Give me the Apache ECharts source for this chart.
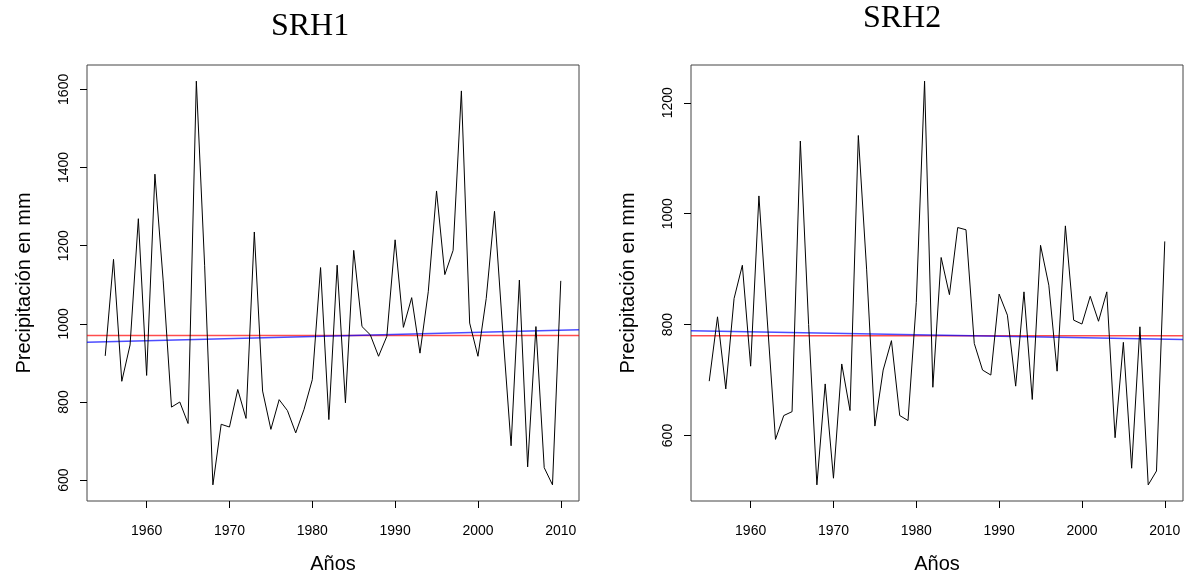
<!DOCTYPE html>
<html>
<head>
<meta charset="utf-8">
<script src="https://cdn.jsdelivr.net/npm/echarts@6/dist/echarts.min.js"></script>
<style>
html,body{margin:0;padding:0;background:#fff;}
#chart{width:1187px;height:579px;}
</style>
</head>
<body>
<div id="chart"></div>
<script>
const years = [1955,1956,1957,1958,1959,1960,1961,1962,1963,1964,1965,1966,1967,1968,1969,
  1970,1971,1972,1973,1974,1975,1976,1977,1978,1979,1980,1981,1982,1983,1984,1985,1986,
  1987,1988,1989,1990,1991,1992,1993,1994,1995,1996,1997,1998,1999,2000,2001,2002,2003,
  2004,2005,2006,2007,2008,2009,2010];
const srh1 = [918,1165,853,946,1269,868,1383,1110,787,800,745,1621,1150,588,743,
  736,832,758,1235,828,730,806,778,721,781,857,1144,755,1150,798,1188,993,
  972,917,968,1215,991,1067,925,1082,1340,1126,1188,1596,1002,917,1065,1288,980,
  688,1112,634,993,632,588,1110];
const srh2 = [698,814,684,847,907,725,1032,810,593,636,643,1131,800,511,693,
  523,729,645,1141,900,617,718,771,636,627,840,1239,687,921,854,975,971,
  766,718,709,855,817,689,859,665,943,871,716,978,808,801,851,806,859,
  596,768,541,796,511,536,950];
const titles = ['SRH1', 'SRH2'];
const xTicks = [1960,1970,1980,1990,2000,2010];
const yTicks1 = [600,800,1000,1200,1400,1600];
const yTicks2 = [600,800,1000,1200];
const xRange = [1952.8, 2012.2];
const yRange1 = [546.7, 1662.3];
const yRange2 = [481.9, 1268.1];
const mean1 = 970, mean2 = 780;
const trend1 = [953, 985];   // at xRange ends
const trend2 = [789, 773];
const xName = 'Años';
const yName = 'Precipitación en mm';

const SANS = 'Liberation Sans, Arial, sans-serif';
const chart = echarts.init(document.getElementById('chart'), null, {renderer:'canvas'});
const plain = v => String(v);

function xAxisOf(i){
  return {
    gridIndex:i, type:'value', min:xRange[0], max:xRange[1],
    axisLine:{show:false}, splitLine:{show:false},
    axisTick:{show:true, inside:false, length:7, customValues:xTicks, lineStyle:{color:'#000', width:1}},
    axisLabel:{customValues:xTicks, formatter:plain, margin:23, fontSize:14, color:'#000', fontFamily:SANS},
    name:xName, nameLocation:'middle', nameGap:53,
    nameTextStyle:{fontSize:20, color:'#000', fontFamily:SANS}
  };
}
function yAxisOf(i, range, ticks){
  return {
    gridIndex:i, type:'value', min:range[0], max:range[1],
    axisLine:{show:false}, splitLine:{show:false},
    axisTick:{show:true, inside:false, length:7, customValues:ticks, lineStyle:{color:'#000', width:1}},
    axisLabel:{customValues:ticks, formatter:plain, rotate:90, margin:16, fontSize:14, color:'#000', fontFamily:SANS},
    name:yName, nameLocation:'middle', nameGap:53,
    nameTextStyle:{fontSize:20, color:'#000', fontFamily:SANS}
  };
}
function pairs(xs, ys){ return xs.map((x,k)=>[x, ys[k]]); }

const option = {
  backgroundColor:'#fff',
  animation:false,
  grid:[
    {left:87, right:608, top:65, bottom:76, show:true, borderColor:'#444', borderWidth:1, backgroundColor:'transparent'},
    {left:691, right:4, top:65, bottom:76, show:true, borderColor:'#444', borderWidth:1, backgroundColor:'transparent'}
  ],
  xAxis:[xAxisOf(0), xAxisOf(1)],
  yAxis:[yAxisOf(0, yRange1, yTicks1), yAxisOf(1, yRange2, yTicks2)],
  graphic:[
    {type:'text', x:310, y:27, style:{text:titles[0], font:'32px "Liberation Serif", serif', fill:'#000', textAlign:'center', textVerticalAlign:'middle'}},
    {type:'text', x:902, y:19, style:{text:titles[1], font:'32px "Liberation Serif", serif', fill:'#000', textAlign:'center', textVerticalAlign:'middle'}}
  ],
  series:[
    {type:'line', xAxisIndex:0, yAxisIndex:0, data:pairs(xRange,[mean1,mean1]), symbol:'none', lineStyle:{color:'#ff0000', width:1.5, opacity:0.7}, z:2},
    {type:'line', xAxisIndex:0, yAxisIndex:0, data:pairs(xRange,trend1), symbol:'none', lineStyle:{color:'#0000ff', width:1.5, opacity:0.7}, z:3},
    {type:'line', xAxisIndex:0, yAxisIndex:0, data:pairs(years,srh1), symbol:'none', lineStyle:{color:'#000', width:1}, z:4},
    {type:'line', xAxisIndex:1, yAxisIndex:1, data:pairs(xRange,[mean2,mean2]), symbol:'none', lineStyle:{color:'#ff0000', width:1.5, opacity:0.7}, z:2},
    {type:'line', xAxisIndex:1, yAxisIndex:1, data:pairs(xRange,trend2), symbol:'none', lineStyle:{color:'#0000ff', width:1.5, opacity:0.7}, z:3},
    {type:'line', xAxisIndex:1, yAxisIndex:1, data:pairs(years,srh2), symbol:'none', lineStyle:{color:'#000', width:1}, z:4}
  ]
};
chart.setOption(option);
</script>
</body>
</html>
